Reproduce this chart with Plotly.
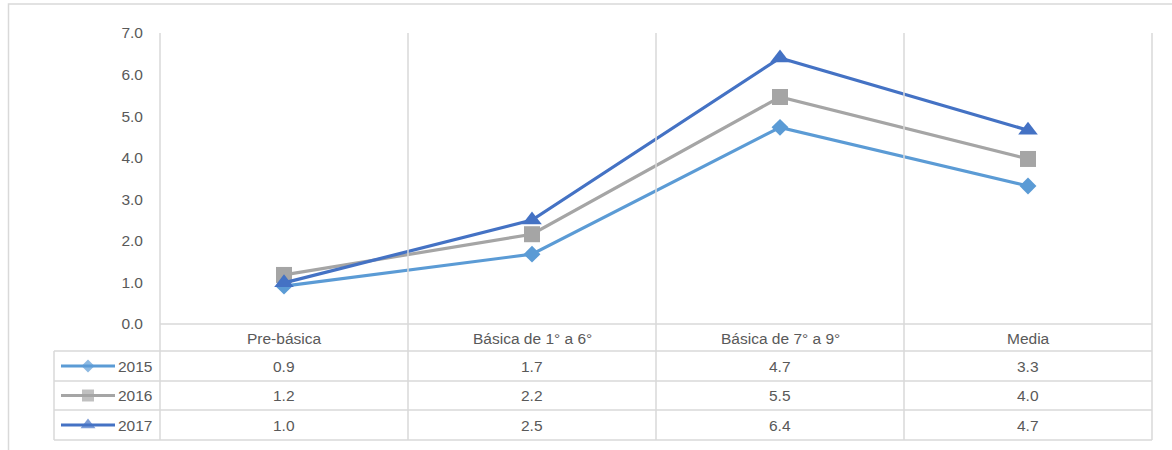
import plotly.graph_objects as go

categories = ["Pre-básica", "Básica de 1° a 6°", "Básica de 7° a 9°", "Media"]
series_names = ["2015", "2016", "2017"]
values_2015 = [0.91, 1.68, 4.73, 3.32]
values_2016 = [1.18, 2.16, 5.46, 3.97]
values_2017 = [0.99, 2.50, 6.40, 4.66]
y_ticks = [0, 1, 2, 3, 4, 5, 6, 7]

series_values = [values_2015, values_2016, values_2017]
colors = ["#5B9BD5", "#A5A5A5", "#4472C4"]
symbols = ["diamond", "square", "triangle-up"]
msizes = [13, 16, 17]
leg_msizes = [10, 12, 13]

W, H = 1172, 450
PL, PR, PT, PB = 160, 1152, 33, 324   # plot area in pixels
TL = 54                               # table left edge
ROWS = [351, 381, 410, 440]           # row bottom lines
GRID = "#D9D9D9"
TXT = "#595959"
FONT = "Liberation Sans, Arial, sans-serif"
FS = 15.5

fig = go.Figure()

for name, vals, c, s, ms in zip(series_names, series_values, colors, symbols, msizes):
    fig.add_trace(go.Scatter(
        x=categories, y=vals, name=name, mode="lines+markers",
        line=dict(color=c, width=3.2),
        marker=dict(symbol=s, size=ms, color=c),
        xaxis="x", yaxis="y", showlegend=False, cliponaxis=False,
    ))

n = len(categories)
band = (PR - PL) / n

shapes = []
def line(x0, y0, x1, y1):
    shapes.append(dict(type="line", xref="x2", yref="y2", x0=x0, y0=y0, x1=x1, y1=y1,
                       line=dict(color=GRID, width=1.5), layer="below"))

# outer frame
shapes.append(dict(type="rect", xref="x2", yref="y2", x0=8.5, y0=4, x1=1190, y1=470,
                   line=dict(color=GRID, width=1.5), layer="below"))
# vertical lines
for i in range(n + 1):
    xp = PL + i * band
    line(xp, PT, xp, ROWS[-1])
line(TL, ROWS[0], TL, ROWS[-1])
# horizontal lines
line(PL, PB, PR, PB)
for yp in ROWS:
    line(TL, yp, PR, yp)

annotations = []
# header row
hdr_y = (PB + ROWS[0]) / 2 + 1
for cat in categories:
    annotations.append(dict(x=cat, y=1 - hdr_y / H, xref="x", yref="paper", text=cat, showarrow=False,
                            xanchor="center", yanchor="middle",
                            font=dict(family=FONT, size=FS, color=TXT)))
# data rows
row_tops = [ROWS[0], ROWS[1], ROWS[2]]
for r, (name, vals, c, s, lms) in enumerate(zip(series_names, series_values, colors, symbols, leg_msizes)):
    yc = (row_tops[r] + ROWS[r + 1]) / 2
    for cat, v in zip(categories, vals):
        annotations.append(dict(x=cat, y=1 - yc / H, xref="x", yref="paper", text=f"{v:.1f}", showarrow=False,
                                xanchor="center", yanchor="middle",
                                font=dict(family=FONT, size=FS, color=TXT)))
    annotations.append(dict(x=116 / W, y=1 - yc / H, xref="paper", yref="paper", text=name, showarrow=False,
                            xanchor="left", yanchor="middle", font=dict(family=FONT, size=FS, color=TXT)))
    fig.add_trace(go.Scatter(
        x=[61, 88, 115], y=[yc, yc, yc], mode="lines+markers",
        line=dict(color=c, width=3), marker=dict(symbol=s, size=[0, lms, 0], color=c, line=dict(width=0)),
        xaxis="x2", yaxis="y2", showlegend=False, hoverinfo="skip",
    ))

fig.update_layout(
    width=W, height=H, margin=dict(l=0, r=0, t=0, b=0, autoexpand=False),
    paper_bgcolor="white", plot_bgcolor="rgba(0,0,0,0)",
    showlegend=False,
    xaxis=dict(domain=[PL / W, PR / W], type="category", range=[-0.5, n - 0.5], anchor="y",
               showgrid=False, showticklabels=False, zeroline=False, showline=False, ticks=""),
    yaxis=dict(domain=[1 - PB / H, 1 - PT / H], range=[0, 7], tickvals=y_ticks, tickformat=".1f",
               anchor="x", automargin=False,
               showgrid=False, zeroline=False, showline=False, ticks="", ticklabelstandoff=16,
               tickfont=dict(family=FONT, size=FS, color=TXT)),
    xaxis2=dict(domain=[0, 1], range=[0, W], visible=False, anchor="y2", fixedrange=True),
    yaxis2=dict(domain=[0, 1], range=[H, 0], visible=False, anchor="x2", fixedrange=True),
    shapes=shapes, annotations=annotations,
)

fig.write_html("out.html", config={"displayModeBar": False},
               post_script="document.body.style.margin='0';")
